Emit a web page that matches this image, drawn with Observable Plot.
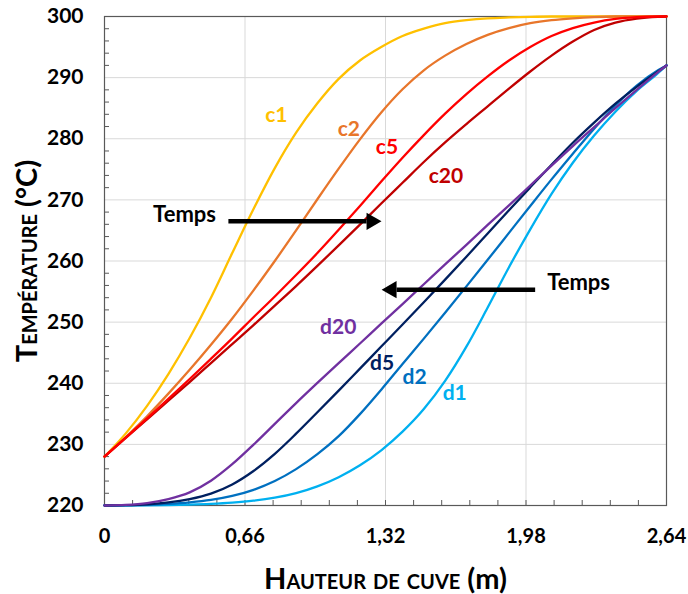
<!DOCTYPE html>
<html>
<head>
<meta charset="utf-8">
<script src="https://cdn.jsdelivr.net/npm/d3@7"></script>
<script src="https://cdn.jsdelivr.net/npm/@observablehq/plot@0.6"></script>
<style>
  html, body { margin: 0; padding: 0; background: #fff; }
  #chart svg { display: block; }
</style>
</head>
<body>
<div id="chart"></div>
<script>
// ---- axes ----
const xTicks = [0, 0.66, 1.32, 1.98, 2.64];
const xTickLabels = ["0", "0,66", "1,32", "1,98", "2,64"];
const xMinorTicks = [0.132, 0.264, 0.396, 0.528, 0.66, 0.792, 0.924, 1.056, 1.188, 1.32, 1.452, 1.584, 1.716, 1.848, 1.98, 2.112, 2.244, 2.376, 2.508];
const yTicks = [220, 230, 240, 250, 260, 270, 280, 290, 300];
const yMinorTicks = [222, 224, 226, 228, 232, 234, 236, 238, 242, 244, 246, 248, 252, 254, 256, 258, 262, 264, 266, 268, 272, 274, 276, 278, 282, 284, 286, 288, 292, 294, 296, 298];
const xTitle = "Hauteur de cuve";
const xUnit = " (m)";
const yTitle = "Température";
const yUnit = " (°C)";

// ---- series: hauteur (m) and température (°C) ----
const seriesNames = ["c1", "c2", "c20", "c5", "d1", "d2", "d5", "d20"];
const seriesColors = ["#FFC000", "#E8762B", "#C00000", "#FF0000", "#00B0F0", "#0070C0", "#002060", "#7030A0"];

const hX = [0, 0.1, 0.2, 0.3, 0.4, 0.5, 0.6, 0.7, 0.8, 0.9, 1.0, 1.1, 1.2, 1.3, 1.4, 1.5, 1.6, 1.7, 1.8, 1.9, 2.0, 2.1, 2.2, 2.3, 2.4, 2.5, 2.6, 2.64];

const c1T  = [228, 231.8, 236.3, 241.5, 247.4, 254.0, 261.3, 268.5, 275.2, 281.0, 285.8, 289.8, 292.8, 295.0, 296.8, 298.0, 298.9, 299.4, 299.7, 299.85, 299.95, 300, 300, 300, 300, 300, 300, 300];
const c2T  = [228, 231.2, 234.6, 238.3, 242.2, 246.3, 250.6, 255.2, 260.0, 265.0, 270.1, 275.1, 279.9, 284.3, 288.1, 291.2, 293.6, 295.5, 297.0, 298.1, 298.9, 299.4, 299.7, 299.9, 300, 300, 300, 300];
const c5T  = [228, 231.1, 234.25, 237.45, 240.7, 244.0, 247.35, 250.8, 254.2, 257.7, 261.3, 265.1, 269.0, 273.0, 276.9, 280.6, 284.1, 287.3, 290.2, 292.8, 295.0, 296.8, 298.1, 299.0, 299.6, 299.9, 300, 300];
const c20T = [228, 231.05, 234.1, 237.15, 240.2, 243.3, 246.4, 249.5, 252.7, 255.9, 259.2, 262.55, 265.95, 269.4, 272.8, 276.2, 279.4, 282.4, 285.3, 288.2, 291.0, 293.6, 295.9, 297.8, 299.0, 299.65, 299.95, 300];
const d20T = [220, 220.1, 220.4, 221.05, 222.15, 224.05, 226.75, 229.95, 233.35, 236.75, 240.05, 243.3, 246.5, 249.75, 252.95, 256.2, 259.45, 262.65, 265.9, 269.1, 272.35, 275.6, 278.8, 281.9, 285.0, 288.0, 290.9, 292];
const d5T  = [220, 220.05, 220.2, 220.5, 221.05, 221.95, 223.45, 225.65, 228.45, 231.75, 235.25, 238.8, 242.4, 246.0, 249.6, 253.25, 256.95, 260.7, 264.5, 268.3, 272.05, 275.75, 279.35, 282.65, 285.75, 288.5, 291.0, 292];
const d2T  = [220, 220.03, 220.11, 220.26, 220.51, 220.91, 221.56, 222.56, 224.0, 225.95, 228.4, 231.35, 234.95, 238.95, 243.15, 247.3, 251.55, 255.85, 260.2, 264.6, 269.0, 273.35, 277.55, 281.65, 285.45, 288.7, 291.2, 292];
const d1T  = [220, 220.01, 220.03, 220.07, 220.14, 220.26, 220.46, 220.78, 221.28, 222.03, 223.13, 224.63, 226.58, 229.03, 232.08, 235.78, 240.38, 245.98, 252.38, 258.98, 265.18, 270.98, 276.08, 280.53, 284.43, 287.83, 290.73, 292];

// ---- annotations (data space) ----
const labelNames = ["c1", "c2", "c5", "c20", "d20", "d5", "d2", "d1"];
const labelX = [0.807, 1.148, 1.327, 1.604, 1.098, 1.304, 1.457, 1.645];
const labelT = [283.9, 281.6, 278.6, 273.8, 249.2, 243.2, 241.0, 238.3];

const tempsText = ["Temps", "Temps"];
const tempsX = [0.376, 2.227];
const tempsT = [267.6, 256.4];

// arrow shafts: start and base of the head
const arrowRightX1 = [0.582], arrowRightX2 = [1.231], arrowRightT = [266.5];
const arrowLeftX1 = [2.023], arrowLeftX2 = [1.372], arrowLeftT = [255.3];

// ---- build tables ----
const seriesT = {c1: c1T, c2: c2T, c5: c5T, c20: c20T, d20: d20T, d5: d5T, d2: d2T, d1: d1T};
const rows = seriesNames.flatMap(name => hX.map((x, i) => ({name, x, T: seriesT[name][i]})));
const labelRows = labelNames.map((name, i) => ({name, x: labelX[i], T: labelT[i]}));
const tempsRows = tempsText.map((text, i) => ({text, x: tempsX[i], T: tempsT[i]}));
const arrowR = arrowRightX1.map((x1, i) => ({x1, x2: arrowRightX2[i], T: arrowRightT[i]}));
const arrowL = arrowLeftX1.map((x1, i) => ({x1, x2: arrowLeftX2[i], T: arrowLeftT[i]}));

const font = "Lato, 'Open Sans', 'DejaVu Sans', sans-serif";
const frameColor = "#595959";

const chart = Plot.plot({
  width: 688,
  height: 594,
  marginLeft: 104,
  marginRight: 22,
  marginTop: 16,
  marginBottom: 89,
  style: {fontFamily: font, background: "#fff", color: "#000", overflow: "visible"},
  x: {domain: [0, 2.64]},
  y: {domain: [220, 300]},
  color: {domain: seriesNames, range: seriesColors},
  marks: [
    Plot.gridX(xTicks, {stroke: "#d9d9d9", strokeOpacity: 1, strokeWidth: 1}),
    Plot.gridY(yTicks, {stroke: "#d9d9d9", strokeOpacity: 1, strokeWidth: 1}),
    Plot.axisX(xMinorTicks, {anchor: "bottom", tickSize: -5, fill: "none", stroke: frameColor, label: null}),
    Plot.axisY(yMinorTicks, {anchor: "left", tickSize: -5, fill: "none", stroke: frameColor, label: null}),
    Plot.axisX(xTicks, {anchor: "bottom", tickSize: 0, tickPadding: 23, fontSize: 20, fontWeight: "bold", fill: "#000",
      tickFormat: d => xTickLabels[xTicks.indexOf(d)], label: null}),
    Plot.axisY(yTicks, {anchor: "left", tickSize: 0, tickPadding: 21, fontSize: 21, fontWeight: "bold", fill: "#000", label: null}),
    Plot.frame({stroke: frameColor, strokeWidth: 1.2}),
    Plot.line(rows, {x: "x", y: "T", z: "name", stroke: "name", strokeWidth: 2.3, curve: "monotone-x"}),
    Plot.text(labelRows, {x: "x", y: "T", text: "name", fill: "name", fontSize: 21, fontWeight: "bold"}),
    Plot.text(tempsRows, {x: "x", y: "T", text: "text", fill: "#000", fontSize: 22, fontWeight: "bold"}),
    Plot.link(arrowR, {x1: "x1", x2: "x2", y1: "T", y2: "T", stroke: "#000", strokeWidth: 4.5}),
    Plot.dot(arrowR, {x: "x2", y: "T", symbol: "triangle", r: 6.4, fill: "#000", stroke: "none", rotate: 90, dx: 5}),
    Plot.link(arrowL, {x1: "x1", x2: "x2", y1: "T", y2: "T", stroke: "#000", strokeWidth: 4.5}),
    Plot.dot(arrowL, {x: "x2", y: "T", symbol: "triangle", r: 6.4, fill: "#000", stroke: "none", rotate: -90, dx: -5}),
    Plot.text([yTitle], {frameAnchor: "left", textAnchor: "middle", lineAnchor: "middle", rotate: -90, dx: -77,
      fontSize: 29, fontWeight: "bold", fill: "#000", className: "ytitle"}),
    Plot.text([xTitle], {frameAnchor: "bottom", textAnchor: "middle", lineAnchor: "middle", dy: 74,
      fontSize: 29, fontWeight: "bold", fill: "#000", className: "xtitle"})
  ]
});

// axis titles: small caps for the words, unit in normal case
function splitTitle(sel, words, unit) {
  sel.each(function() {
    const t = d3.select(this);
    t.text(null);
    t.append("tspan").style("font-variant", "small-caps").text(words);
    t.append("tspan").text(unit);
  });
}
splitTitle(d3.select(chart).selectAll(".ytitle text"), yTitle, yUnit);
splitTitle(d3.select(chart).selectAll(".xtitle text"), xTitle, xUnit);

document.getElementById("chart").appendChild(chart);
</script>
</body>
</html>
